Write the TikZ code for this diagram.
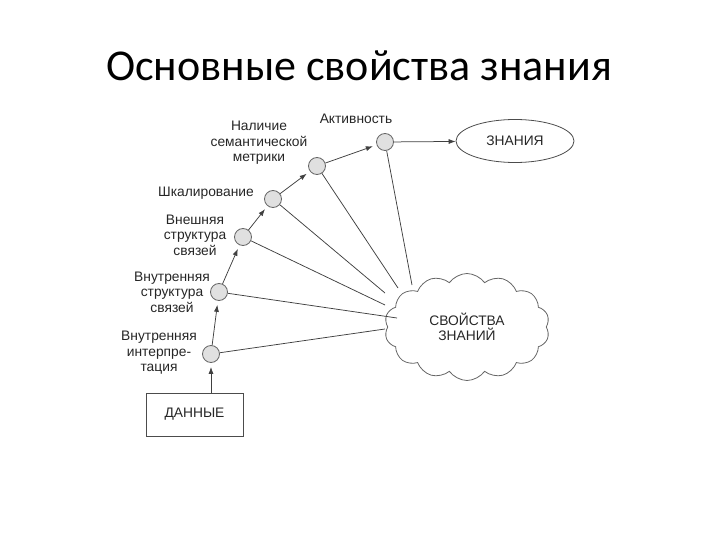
\documentclass[tikz,border=0pt]{standalone}
\usepackage{fontspec}
\setmainfont{Liberation Sans}
\newfontfamily\titlefont{Carlito}
\usetikzlibrary{shapes.geometric,shapes.symbols,arrows.meta}
\tikzset{
  prop/.style={circle,draw=black!60,fill=black!12,line width=0.8pt,minimum size=17pt,inner sep=0pt},
  lbl/.style={align=center,text=black!85,font=\fontsize{13.8}{15.6}\selectfont},
  link/.style={draw=black!75,line width=0.75pt},
}
\begin{document}
\begin{tikzpicture}[x=1pt,y=-1pt,>={Latex[length=7pt,width=5pt]}]
\useasboundingbox (0,0) rectangle (720,540);
% title
\node[font=\titlefont\fontsize{44}{50}\selectfont] (title) at (359,66) {Основные свойства знания};
% chain of properties
\node[prop] (interp) at (211,354) {};
\node[prop] (inner) at (219,292) {};
\node[prop] (outer) at (243,237) {};
\node[prop] (scal) at (273,199) {};
\node[prop] (metr) at (317,166) {};
\node[prop] (act) at (385,142) {};
% labels of the properties
\node[lbl] (linterp) at (159,353) {Внутренняя\\интерпре-\\тация};
\node[lbl] (linner) at (172,292) {Внутренняя\\структура\\связей};
\node[lbl] (louter) at (195,235) {Внешняя\\структура\\связей};
\node[lbl] (lscal) at (206,193) {Шкалирование};
\node[lbl] (lmetr) at (259,143) {Наличие\\семантической\\метрики};
\node[lbl] (lact) at (356,119) {Активность};
% data, knowledge and the cloud
\node[draw=black!70,line width=0.8pt,minimum width=97pt,minimum height=43pt,lbl] (data) at (194.5,414.5) {ДАННЫЕ};
\node[ellipse,draw=black!70,line width=0.8pt,minimum width=118pt,minimum height=43pt,lbl] (know) at (515,141) {ЗНАНИЯ};
\node[cloud,cloud puffs=14,cloud puff arc=110,aspect=1.55,draw=black!60,line width=0.8pt,
      minimum width=165pt,minimum height=107pt,lbl] (props) at (467,327) {СВОЙСТВА\\ЗНАНИЙ};
% ends of the links on the cloud
\coordinate (e1) at (385,329);
\coordinate (e2) at (397,318);
\coordinate (e3) at (385,305);
\coordinate (e4) at (385,293);
\coordinate (e5) at (398,288);
\coordinate (e6) at (412,285);
% arrows along the chain
\draw[link,->,shorten >=4pt] (data.north-|interp) -- (interp);
\draw[link,->,shorten >=4pt] (interp) -- (inner);
\draw[link,->,shorten >=4pt] (inner) -- (outer);
\draw[link,->,shorten >=4pt] (outer) -- (scal);
\draw[link,->,shorten >=4pt] (scal) -- (metr);
\draw[link,->,shorten >=4pt] (metr) -- (act);
\draw[link,->] (act) -- (know);
% links to the cloud
\draw[link] (interp) -- (e1);
\draw[link] (inner) -- (e2);
\draw[link] (outer) -- (e3);
\draw[link] (scal) -- (e4);
\draw[link] (metr) -- (e5);
\draw[link] (act) -- (e6);
\end{tikzpicture}
\end{document}
